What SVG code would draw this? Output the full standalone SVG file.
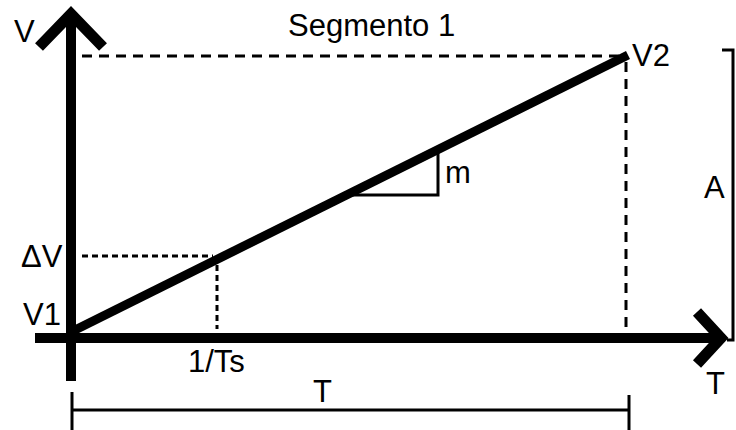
<svg xmlns="http://www.w3.org/2000/svg" width="736" height="430" viewBox="0 0 736 430">
<style>
text{font-family:"Liberation Sans",Arial,sans-serif;font-size:31px;fill:#000}
.axis{stroke:#000;stroke-width:10;fill:none}
.head{stroke:#000;stroke-width:11;fill:none;stroke-linejoin:miter;stroke-miterlimit:10}
.thin{stroke:#000;stroke-width:3;fill:none}
.dash{stroke:#000;stroke-width:3;fill:none;stroke-dasharray:10 7}
.dot{stroke:#000;stroke-width:3;fill:none;stroke-dasharray:6 4}
</style>
<rect width="736" height="430" fill="#fff"/>
<g id="connectors">
<line class="dash" x1="82" y1="56" x2="622" y2="56"/>
<line class="dash" x1="626" y1="62" x2="626" y2="330"/>
<line class="dot" x1="82" y1="256" x2="213" y2="256"/>
<line class="dot" x1="217" y1="265" x2="217" y2="329"/>
<line class="axis" x1="71" y1="14" x2="71" y2="381"/>
<polyline class="head" points="39,47 71,14 103,47"/>
<line class="axis" x1="35" y1="338" x2="718" y2="338"/>
<polyline class="head" points="697,312 721,338 697,364"/>
<line stroke="#000" stroke-width="9" x1="73" y1="331" x2="628" y2="55"/>
<polyline class="thin" points="352,195 438,195 438,152"/>
<polyline class="thin" points="722,50 733,50 733,340 727,340"/>
<line class="thin" x1="72" y1="410" x2="629" y2="410"/>
<line class="thin" x1="72" y1="392" x2="72" y2="430"/>
<line class="thin" x1="629" y1="395" x2="629" y2="430"/>
</g>
<g id="labels">
<text x="14" y="42">V</text>
<text x="288" y="36">Segmento 1</text>
<text x="632" y="66">V2</text>
<text x="445" y="183">m</text>
<text x="704" y="198">A</text>
<text x="21" y="267">ΔV</text>
<text x="23" y="325">V1</text>
<text x="188" y="372">1/Ts</text>
<text x="313" y="402">T</text>
<text x="706" y="394">T</text>
</g>
</svg>
